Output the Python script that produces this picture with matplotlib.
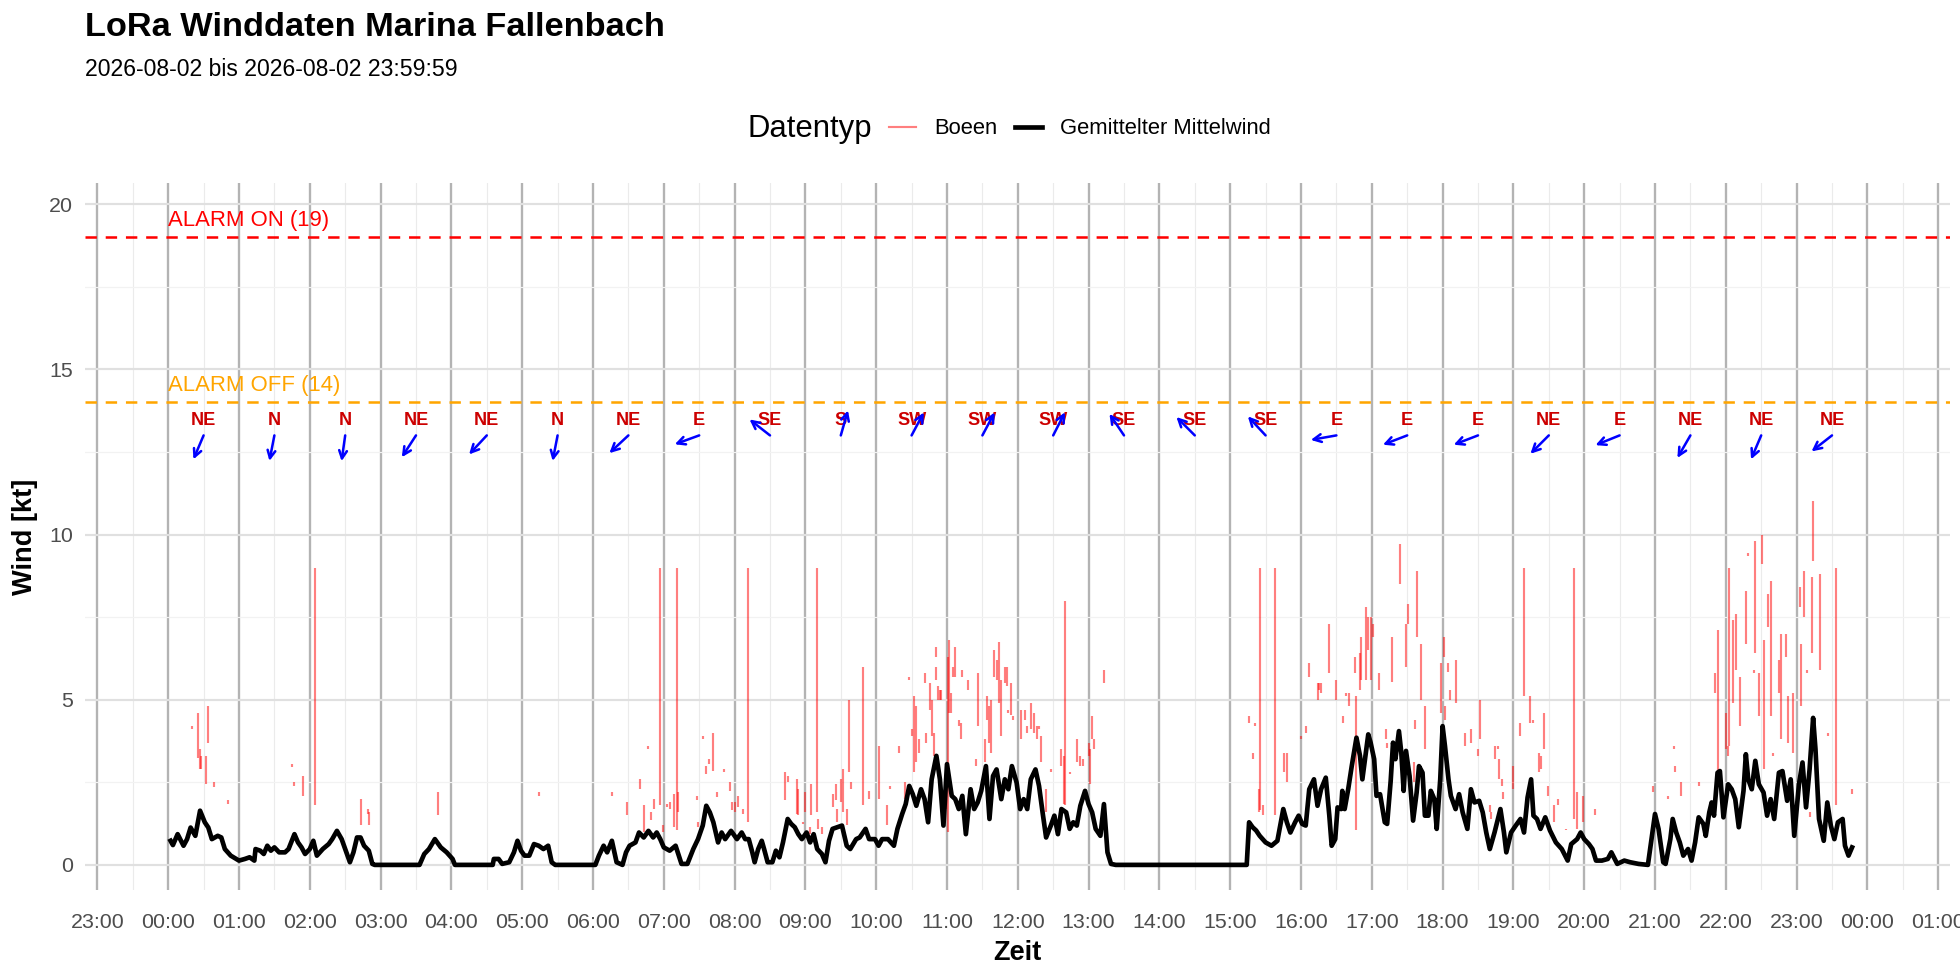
import datetime as dt
import math
import matplotlib
matplotlib.use("Agg")
import matplotlib.pyplot as plt
import matplotlib.dates as mdates
from matplotlib.lines import Line2D

plt.rcParams['font.family'] = ['Liberation Sans', 'DejaVu Sans']

day = dt.datetime(2026, 8, 2)

# gemittelter Mittelwind: minute of day, kt
mean_min = [2, 4, 8, 13, 16, 19, 23, 27, 31, 34, 37, 42, 45, 48, 53, 60, 65, 69, 73, 74, 78, 81, 84, 87, 90, 94, 99,
            102, 107, 110, 113, 116, 120, 123, 126, 131, 136, 139, 143, 147, 150, 154, 157, 160, 163, 166, 170, 173,
            175, 213, 217, 221, 226, 231, 236, 241, 243, 275, 276, 280, 283, 289, 293, 296, 299, 302, 306, 310, 314,
            318, 322, 325, 328, 362, 365, 369, 372, 376, 380, 385, 388, 391, 396, 399, 403, 407, 411, 414, 417, 420,
            425, 430, 435, 440, 445, 449, 453, 456, 459, 462, 466, 469, 472, 477, 482,
            486, 489, 492, 495, 497, 500, 503, 505, 508, 512, 515, 518, 521, 525, 528, 531, 534, 537, 541, 544, 547,
            550, 554, 557, 560, 563, 567, 571, 575, 578, 583, 586, 591, 594, 599, 602, 605, 610, 615, 618, 622, 625,
            628, 631, 634, 638, 641, 644, 647, 651, 654, 657, 660, 664, 667, 670, 673, 676, 680, 683, 686, 689, 693,
            696, 699, 702, 706, 709, 712, 715, 719, 722, 725, 728, 731, 735, 738, 741, 744, 748, 751, 754, 757, 761,
            764, 767, 770, 773, 777, 780, 783, 786, 790, 793, 796, 799, 803, 914, 916, 919, 922, 925, 930, 935, 940,
            945, 948, 951, 955, 958, 961, 964, 967, 971, 974, 977,
            981, 984, 986, 989, 991, 994, 995, 997, 1000, 1003, 1007, 1010, 1012, 1015, 1017, 1019, 1022, 1024, 1027,
            1031, 1033, 1036, 1038, 1040, 1043, 1045, 1047, 1049, 1052, 1055, 1058, 1060, 1063, 1065, 1068, 1070,
            1073, 1075, 1078, 1080, 1082, 1085, 1087, 1091, 1094, 1097, 1101, 1104, 1107, 1111, 1114, 1117, 1120,
            1124, 1129, 1132, 1134, 1138, 1142, 1146, 1149, 1152, 1155, 1157, 1160, 1163, 1167, 1171, 1176, 1181,
            1186, 1189, 1194, 1197, 1200, 1204, 1207, 1210, 1215, 1220, 1223, 1228, 1234, 1239, 1246, 1254, 1257,
            1260, 1263, 1267, 1269, 1273, 1275, 1278, 1281, 1284, 1288, 1291, 1294, 1297, 1301, 1303, 1306, 1308,
            1310, 1313, 1315, 1318, 1322, 1325, 1328, 1331, 1335, 1337, 1339, 1342, 1345, 1348, 1352, 1355, 1358,
            1361, 1365, 1368, 1372, 1375, 1378, 1382, 1385, 1388, 1391, 1394, 1396, 1399, 1403, 1406, 1409, 1412,
            1415, 1419, 1421, 1424, 1427]
mean_kt = [0.73, 0.60, 0.93, 0.58, 0.78, 1.13, 0.88, 1.64, 1.29, 1.13, 0.78, 0.88, 0.83, 0.48, 0.28, 0.13, 0.18,
           0.23, 0.13, 0.48, 0.43, 0.33, 0.58, 0.43, 0.53, 0.38, 0.38, 0.48, 0.93, 0.68, 0.53, 0.33, 0.48, 0.73,
           0.28, 0.48, 0.63, 0.78, 1.03, 0.78, 0.48, 0.08, 0.38, 0.83, 0.83, 0.58, 0.43, 0.03, 0.0, 0.0, 0.33,
           0.48, 0.78, 0.53, 0.38, 0.18, 0.0, 0.0, 0.18, 0.18, 0.03, 0.08, 0.38, 0.73, 0.43, 0.28, 0.28, 0.63,
           0.58, 0.48, 0.58, 0.08, 0.0, 0.0, 0.28, 0.58, 0.38, 0.73, 0.08, 0.0, 0.38, 0.58, 0.68, 0.98, 0.83, 1.03,
           0.83, 0.98, 0.78, 0.53, 0.43, 0.58, 0.03, 0.03, 0.48, 0.78, 1.19, 1.79, 1.59, 1.29, 0.68, 0.98, 0.78,
           1.03, 0.78,
           0.98, 0.78, 0.78, 0.38, 0.08, 0.48, 0.73, 0.48, 0.08, 0.08, 0.43, 0.23, 0.68, 1.39, 1.24, 1.14, 0.93,
           0.78, 0.98, 0.68, 0.93, 0.48, 0.33, 0.08, 0.73, 1.09, 1.14, 1.19, 0.58, 0.48, 0.78, 0.83, 1.09, 0.78,
           0.78, 0.58, 0.78, 0.78, 0.58, 1.09, 1.54, 1.84, 2.39, 2.14, 1.79, 2.29, 1.99, 1.29, 2.59, 3.30, 2.59,
           1.19, 3.05, 2.09, 1.99, 1.69, 2.09, 0.93, 2.29, 1.69, 1.89, 2.24, 2.99, 1.39, 2.69, 2.89, 1.99, 2.59,
           2.29, 2.99, 2.49, 1.69, 1.99, 1.69, 2.59, 2.89, 2.39, 1.59, 0.83, 1.19, 1.49, 0.93, 1.69, 1.59, 1.09,
           1.29, 1.19, 1.79, 2.24, 1.84, 1.59, 1.09, 0.88, 1.84, 0.38, 0.03, 0.0, 0.0, 1.29, 1.14, 1.04, 0.88,
           0.68, 0.58, 0.73, 1.69, 1.29, 0.98, 1.29, 1.49, 1.24, 1.19, 2.29, 2.59, 1.79, 2.29,
           2.64, 1.49, 0.58, 0.78, 1.74, 1.69, 2.24, 1.69, 2.29, 2.99, 3.85, 3.30, 2.59, 3.40, 3.95, 3.70, 3.20,
           2.09, 2.14, 1.29, 1.24, 2.54, 3.70, 3.20, 4.05, 3.40, 2.24, 3.45, 2.69, 1.34, 2.19, 2.99, 2.79, 1.49,
           1.49, 2.24, 1.99, 1.09, 2.59, 4.20, 3.60, 2.59, 2.09, 1.69, 2.14, 1.59, 1.09, 2.29, 1.89, 1.94, 1.59,
           0.98, 0.48, 0.98, 1.69, 0.98, 0.38, 0.98, 1.19, 1.39, 0.98, 2.04, 2.59, 1.49, 1.39, 1.09, 1.44, 1.04,
           0.68, 0.48, 0.13, 0.63, 0.78, 0.98, 0.78, 0.63, 0.48, 0.13, 0.13, 0.18, 0.38, 0.03, 0.13, 0.08, 0.03,
           0.0, 0.78, 1.54, 1.09, 0.08, 0.03, 0.78, 1.39, 0.98, 0.68, 0.28, 0.48, 0.13, 0.68, 1.44, 1.24, 0.88,
           1.59, 1.89, 1.49, 2.79, 2.84, 1.44, 2.44, 2.29, 1.99, 1.14, 2.24, 3.35, 2.59, 2.29, 3.15, 2.44, 2.19,
           1.49, 1.99, 1.39, 2.79, 2.84, 1.94, 2.59, 0.88, 2.44, 3.10, 1.74, 2.89, 4.45, 3.50, 1.39, 0.73, 1.89,
           1.19, 0.78, 1.29, 1.39, 0.58, 0.28, 0.53]

# Boeen: minute of day, low and high end of each gust trace
gust_min = [20, 25, 27, 28, 32, 34, 39, 51, 105, 107, 114, 124, 163, 169, 170, 229, 314, 376, 389, 400, 403, 407,
            409, 412, 417, 419, 423, 425, 429, 431, 432, 448, 449, 453, 456, 458, 462, 465, 471, 476, 478, 480,
            483, 487, 491, 523, 525, 533, 534, 538, 540, 544, 545, 550, 551, 554, 563, 566, 567, 570, 572, 575,
            577, 579, 589, 594, 602, 609, 612, 619, 624, 628, 630, 632, 634, 636, 641, 642, 646, 647, 649, 651,
            651, 652, 654, 655, 659, 661, 662, 663, 665, 667, 670, 672, 673, 678, 685, 686, 692, 694, 696, 697,
            700, 702, 704, 706, 709, 711, 712, 714, 716, 723, 726, 728, 731, 734, 736, 738, 740, 744, 748, 757,
            759, 760, 764, 770, 773, 775, 780, 781, 783, 785, 793, 916, 919, 921, 924, 925, 928, 938, 946, 948,
            960, 964, 967, 974, 975, 977, 984, 990, 996, 998, 1001, 1006, 1007, 1010, 1011, 1015, 1017, 1019,
            1021, 1026, 1032, 1033, 1037, 1044, 1049, 1051, 1056, 1057, 1058, 1062, 1065, 1079, 1081, 1082, 1085,
            1086, 1091, 1099, 1104, 1110, 1112, 1120, 1121, 1124, 1127, 1128, 1130, 1131, 1140, 1146, 1149, 1154,
            1157, 1162, 1163, 1166, 1169, 1174, 1178, 1185, 1191, 1194, 1199, 1209, 1258, 1271, 1276, 1277, 1282,
            1297, 1311, 1313, 1315, 1320, 1322, 1323, 1326, 1329, 1332, 1337, 1339, 1344, 1345, 1348, 1351, 1352,
            1356, 1358, 1360, 1365, 1367, 1371, 1373, 1377, 1383, 1384, 1386, 1389, 1391, 1393, 1394, 1400, 1407,
            1413, 1427]
gust_lo = [4.1, 3.25, 2.9, 2.9, 2.45, 3.7, 2.35, 1.85, 2.95, 2.4, 2.1, 1.8, 1.2, 1.55, 1.2, 1.5, 2.1, 2.1, 1.5,
           2.3, 1.0, 3.5, 1.35, 1.7, 1.8, 1.0, 1.75, 1.7, 1.15, 1.05, 1.6, 1.95, 1.15, 3.8, 2.75, 3.05, 2.85, 2.05,
           2.8, 2.25, 1.65, 1.6, 1.75, 1.55, 1.3, 1.95, 2.5, 1.55, 1.5, 1.24, 1.6, 0.95, 1.5, 1.6, 1.1, 0.95,
           1.75, 1.95, 1.3, 1.9, 1.6, 1.2, 2.8, 2.3, 1.8, 2.0, 2.0, 1.2, 2.3, 3.4, 2.0, 5.6, 3.9, 2.8, 3.1, 3.4,
           5.5, 3.7, 4.7, 3.9, 3.3, 6.3, 5.6, 5.0, 5.0, 5.0, 1.7, 1.0, 4.6, 4.6, 5.7, 5.7, 4.2, 3.8, 5.7, 5.3,
           3.0, 4.2, 3.1, 4.4, 3.7, 3.4, 5.7, 5.6, 4.9, 3.9, 5.5, 5.4, 4.6, 4.55, 4.4, 3.8, 4.4, 4.0, 4.1, 4.0,
           3.8, 4.1, 3.1, 1.6, 2.8, 3.0, 1.85, 1.8, 2.75, 3.1, 3.0, 3.0, 3.3, 2.45, 3.8, 3.5, 5.5, 4.3, 3.2, 4.2,
           1.6, 1.65, 1.5, 1.5, 2.8, 2.5, 3.8, 4.0, 5.7, 5.0, 5.3, 5.2, 5.8, 5.0, 4.3, 5.1, 4.8, 5.8, 1.05, 5.3,
           5.6, 5.6, 6.5, 5.6, 6.9, 5.3, 3.8, 3.55, 5.55, 8.5, 6.0, 7.3, 2.5, 4.1, 6.9, 5.0, 3.5, 4.6, 6.3, 4.4,
           5.85, 5.0, 4.9, 3.6, 3.7, 3.3, 3.8, 1.6, 1.4, 3.2, 3.5, 2.6, 2.4, 2.0, 2.3, 3.9, 5.1, 4.3, 4.3, 2.8,
           2.9, 3.5, 2.1, 1.3, 1.8, 1.05, 1.4, 1.1, 1.3, 1.5, 2.2, 2.0, 3.5, 2.8, 2.1, 2.4, 5.2, 2.8, 2.7, 3.5,
           3.3, 3.6, 4.9, 5.9, 4.2, 6.7, 9.35, 5.8, 6.4, 4.5, 9.1, 2.9, 7.2, 4.5, 3.3, 5.2, 3.8, 6.3, 3.7, 3.4,
           7.8, 4.8, 7.5, 5.8, 1.45, 6.4, 9.2, 5.9, 3.9, 1.8, 2.15]
gust_hi = [4.2, 4.6, 3.5, 3.3, 3.3, 4.8, 2.5, 1.95, 3.05, 2.5, 2.7, 9.0, 2.0, 1.7, 1.6, 2.2, 2.2, 2.2, 1.9, 2.6,
           1.8, 3.6, 1.6, 2.0, 9.0, 1.2, 1.85, 1.9, 2.15, 9.0, 2.2, 2.1, 1.3, 3.9, 3.0, 3.2, 4.0, 2.2, 2.9, 2.5,
           1.9, 1.9, 2.1, 1.7, 9.0, 2.8, 2.7, 2.6, 2.3, 1.3, 2.2, 1.15, 2.45, 9.0, 1.4, 1.15, 2.15, 2.45, 1.7,
           2.6, 2.9, 1.7, 5.0, 2.5, 6.0, 2.25, 3.6, 1.8, 2.4, 3.6, 2.5, 5.7, 4.1, 5.1, 4.8, 3.8, 5.8, 4.0, 5.5,
           5.0, 4.0, 6.6, 6.0, 5.4, 5.3, 5.3, 2.0, 6.3, 6.8, 5.2, 6.0, 6.6, 4.4, 4.3, 5.9, 5.6, 3.2, 5.8, 3.8,
           5.1, 4.8, 5.0, 6.5, 6.2, 6.75, 5.6, 6.0, 6.0, 4.7, 5.5, 4.5, 4.7, 4.7, 4.2, 4.9, 4.6, 4.2, 4.2, 3.9,
           2.3, 2.9, 3.5, 3.3, 8.0, 2.8, 3.8, 3.3, 3.2, 3.7, 3.5, 4.5, 3.8, 5.9, 4.5, 3.4, 4.3, 2.3, 9.0, 1.8,
           9.0, 3.4, 3.4, 3.9, 4.2, 6.1, 5.5, 5.5, 5.5, 7.3, 5.6, 4.5, 5.2, 5.2, 6.3, 5.1, 6.4, 6.9, 7.8, 7.5,
           7.5, 7.3, 5.8, 4.1, 3.7, 6.9, 9.7, 7.3, 7.9, 3.1, 4.4, 8.9, 6.7, 4.8, 6.1, 6.9, 4.8, 6.1, 5.3, 6.2,
           4.0, 4.1, 3.5, 5.0, 1.8, 1.6, 3.6, 3.6, 3.2, 2.6, 2.2, 3.0, 4.3, 9.0, 5.1, 4.4, 3.4, 3.3, 4.6, 2.4,
           1.8, 2.0, 1.1, 9.0, 2.2, 2.1, 1.7, 2.4, 2.1, 3.6, 3.0, 2.5, 2.5, 5.8, 7.1, 2.9, 4.6, 3.6, 9.0, 7.4,
           7.6, 5.7, 8.3, 9.45, 5.9, 9.8, 5.8, 10.0, 6.8, 8.2, 8.6, 3.4, 6.2, 7.0, 7.0, 5.1, 5.2, 8.4, 6.7, 8.9,
           5.9, 1.6, 8.7, 11.0, 8.8, 4.0, 9.0, 2.3]

# Windrichtung pro Stunde (Mitte der Stunde)
dir_labels = ['NE', 'N', 'N', 'NE', 'NE', 'N', 'NE', 'E', 'SE', 'S', 'SW', 'SW', 'SW', 'SE', 'SE', 'SE',
              'E', 'E', 'E', 'NE', 'E', 'NE', 'NE', 'NE']
dir_deg = [23, 11, 8, 33, 43, 11, 47, 70, 128, 196, 208, 208, 207, 146, 135, 137, 80, 69, 69, 45, 68, 30, 23, 52]

alarm_on = 19
alarm_off = 14


def at(minute):
    return day + dt.timedelta(minutes=minute)


fig = plt.figure(figsize=(14, 7), dpi=140)
ax = fig.add_axes([85 / 1960, 1 - 890 / 980, 1865 / 1960, 707 / 980])

x0 = mdates.date2num(at(-70.5))
x1 = mdates.date2num(at(1510))
ax.set_xlim(x0, x1)
ax.set_ylim(-0.76, 20.64)

# grid
ax.xaxis.set_major_locator(mdates.HourLocator())
ax.xaxis.set_minor_locator(mdates.MinuteLocator(byminute=[30]))
ax.xaxis.set_major_formatter(mdates.DateFormatter('%H:%M'))
ax.set_yticks([0, 5, 10, 15, 20])
ax.set_yticks([2.5, 7.5, 12.5, 17.5], minor=True)
ax.grid(which='major', axis='x', color='#b3b3b3', lw=1.2)
ax.grid(which='minor', axis='x', color='#ebebeb', lw=0.6)
ax.grid(which='major', axis='y', color='#e0e0e0', lw=1.1)
ax.grid(which='minor', axis='y', color='#f2f2f2', lw=0.6)
ax.set_axisbelow(True)
for s in ax.spines.values():
    s.set_visible(False)
ax.tick_params(which='both', length=0)
ax.tick_params(axis='x', labelsize=11, labelcolor='#4d4d4d', pad=12)
ax.tick_params(axis='y', labelsize=11, labelcolor='#4d4d4d', pad=6)

# alarm lines
ax.axhline(alarm_on, color='red', lw=1.3, dashes=(4.5, 3.5))
ax.axhline(alarm_off, color='orange', lw=1.3, dashes=(4.5, 3.5))
ax.text(at(0), alarm_on + 0.2, f'ALARM ON ({alarm_on})', color='red', fontsize=11.4, ha='left', va='bottom')
ax.text(at(0), alarm_off + 0.2, f'ALARM OFF ({alarm_off})', color='orange', fontsize=11.4, ha='left',
        va='bottom')

# data
ax.vlines([at(m) for m in gust_min], gust_lo, gust_hi, color=(1, 0, 0, 0.5), lw=1.1)
ax.plot([at(m) for m in mean_min], mean_kt, color='black', lw=2.4, solid_joinstyle='round')

# direction labels and arrows
bbox = ax.get_window_extent()
px_per_min = bbox.width / ((x1 - x0) * 1440)
y_lo, y_hi = ax.get_ylim()
px_per_kt = bbox.height / (y_hi - y_lo)
arrow_px = 26
for h, (lab, deg) in enumerate(zip(dir_labels, dir_deg)):
    m = h * 60 + 30
    ax.text(at(m), 13.45, lab, color='#cc0000', fontsize=9.3, fontweight='bold', ha='center', va='center')
    th = math.radians(deg)
    dx = -math.sin(th) * arrow_px / px_per_min
    dy = -math.cos(th) * arrow_px / px_per_kt
    ax.annotate('', xy=(mdates.date2num(at(m + dx)), 13.0 + dy), xytext=(mdates.date2num(at(m)), 13.0),
                arrowprops=dict(arrowstyle='->,head_length=0.4,head_width=0.2', color='blue', lw=1.3,
                                shrinkA=0, shrinkB=0))

ax.set_xlabel('Zeit', fontsize=14, fontweight='bold')
ax.xaxis.set_label_coords(0.5, -0.071)
ax.set_ylabel('Wind [kt]', fontsize=14, fontweight='bold')
ax.yaxis.set_label_coords(-0.025, 0.5)

# titles
fig.text(85 / 1960, 1 - 27 / 980, 'LoRa Winddaten Marina Fallenbach', fontsize=17.7, fontweight='bold',
         ha='left', va='center')
fig.text(85 / 1960, 1 - 70 / 980, '2026-08-02 bis 2026-08-02 23:59:59', fontsize=11.8, ha='left', va='center')

# legend
fig.text(748 / 1960, 1 - 129 / 980, 'Datentyp', fontsize=16, ha='left', va='center')
handles = [Line2D([], [], color=(1, 0, 0, 0.5), lw=1.1), Line2D([], [], color='black', lw=2.4)]
fig.legend(handles, ['Boeen', 'Gemittelter Mittelwind'], loc='center left',
           bbox_to_anchor=(889 / 1960, 1 - 129 / 980), ncol=2, frameon=False, fontsize=11.3,
           handlelength=1.25, handletextpad=0.8, columnspacing=0.8, borderpad=0, borderaxespad=0)

fig.savefig('out.png', dpi=140)
